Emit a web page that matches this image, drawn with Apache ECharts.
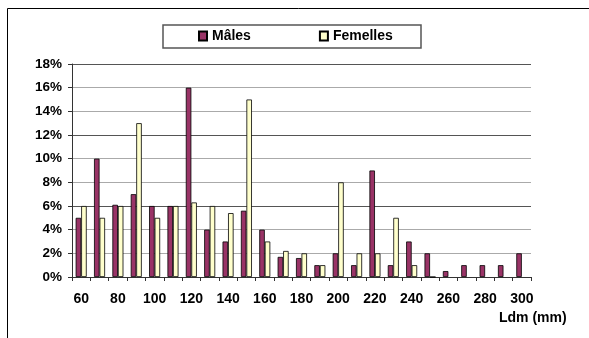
<!DOCTYPE html>
<html>
<head>
<meta charset="utf-8">
<script src="https://cdn.jsdelivr.net/npm/echarts@6/dist/echarts.min.js"></script>
<style>html,body{margin:0;padding:0;background:#fff;}#c{width:589px;height:338px;}</style>
</head>
<body>
<div id="c"></div>
<script>
const categories = ['60','70','80','90','100','110','120','130','140','150','160','170','180','190','200','210','220','230','240','250','260','270','280','290','300'];
const males    = [5, 10, 6.1, 7, 6, 6, 16, 4, 3, 5.6, 4, 1.7, 1.6, 1, 2, 1, 9, 1, 3, 2, 0.5, 1, 1, 1, 2];
const femelles = [6, 5, 6, 13, 5, 6, 6.3, 6, 5.4, 15, 3, 2.2, 2, 1, 8, 2, 2, 5, 1, 0, null, null, null, null, null];
const yTicks = { min: 0, max: 18, interval: 2 };
const FONT = '"Liberation Sans", Arial, sans-serif';

const chart = echarts.init(document.getElementById('c'), null, { renderer: 'canvas' });
chart.setOption({
  animation: false,
  backgroundColor: '#fff',
  grid: { left: 72, right: 58, top: 64, bottom: 61, containLabel: false },
  legend: {
    left: 198, top: 29, padding: 0,
    icon: 'rect',
    itemWidth: 8, itemHeight: 9, itemGap: 68,
    textStyle: { fontFamily: FONT, fontWeight: 'bold', fontSize: 14, color: '#000' },
    data: ['Mâles', 'Femelles']
  },
  graphic: [
    { type: 'line', shape: { x1: 7.5, y1: 8.5, x2: 589, y2: 8.5 }, style: { stroke: '#000', lineWidth: 1 }, z: 0 },
    { type: 'line', shape: { x1: 7.5, y1: 8.5, x2: 7.5, y2: 338 }, style: { stroke: '#000', lineWidth: 1 }, z: 0 },
    { type: 'rect', shape: { x: 163, y: 25, width: 258, height: 23 }, style: { fill: '#fff', stroke: '#555', lineWidth: 1.5 }, z: 0 },
    { type: 'text', left: 499, top: 311, style: { text: 'Ldm (mm)', font: 'bold 14px ' + FONT, fill: '#000' } }
  ],
  xAxis: {
    type: 'category', data: categories, boundaryGap: true,
    axisLine: { lineStyle: { color: '#333', width: 1 } },
    axisTick: { show: true, interval: 0, length: 4, lineStyle: { color: '#333' } },
    axisLabel: { interval: 1, margin: 15, fontFamily: FONT, fontWeight: 'bold', fontSize: 14, color: '#000' },
    splitLine: { show: false }
  },
  yAxis: {
    type: 'value', min: yTicks.min, max: yTicks.max, interval: yTicks.interval,
    axisLine: { show: true, lineStyle: { color: '#333', width: 1 } },
    axisTick: { show: true, length: 4, lineStyle: { color: '#333' } },
    axisLabel: { formatter: '{value}%', margin: 10, fontFamily: FONT, fontWeight: 'bold', fontSize: 13.5, color: '#000' },
    splitLine: { show: true, lineStyle: { color: ['#555', '#aaa', '#aaa'], width: 1 } }
  },
  series: [
    { name: 'Mâles', type: 'bar', data: males, barGap: '0%', barCategoryGap: '40%',
      itemStyle: { color: '#993366', borderColor: '#000', borderWidth: 0.8 } },
    { name: 'Femelles', type: 'bar', data: femelles, barGap: '0%', barCategoryGap: '40%',
      itemStyle: { color: '#FFFFCC', borderColor: '#000', borderWidth: 0.8 } }
  ]
});
</script>
</body>
</html>
